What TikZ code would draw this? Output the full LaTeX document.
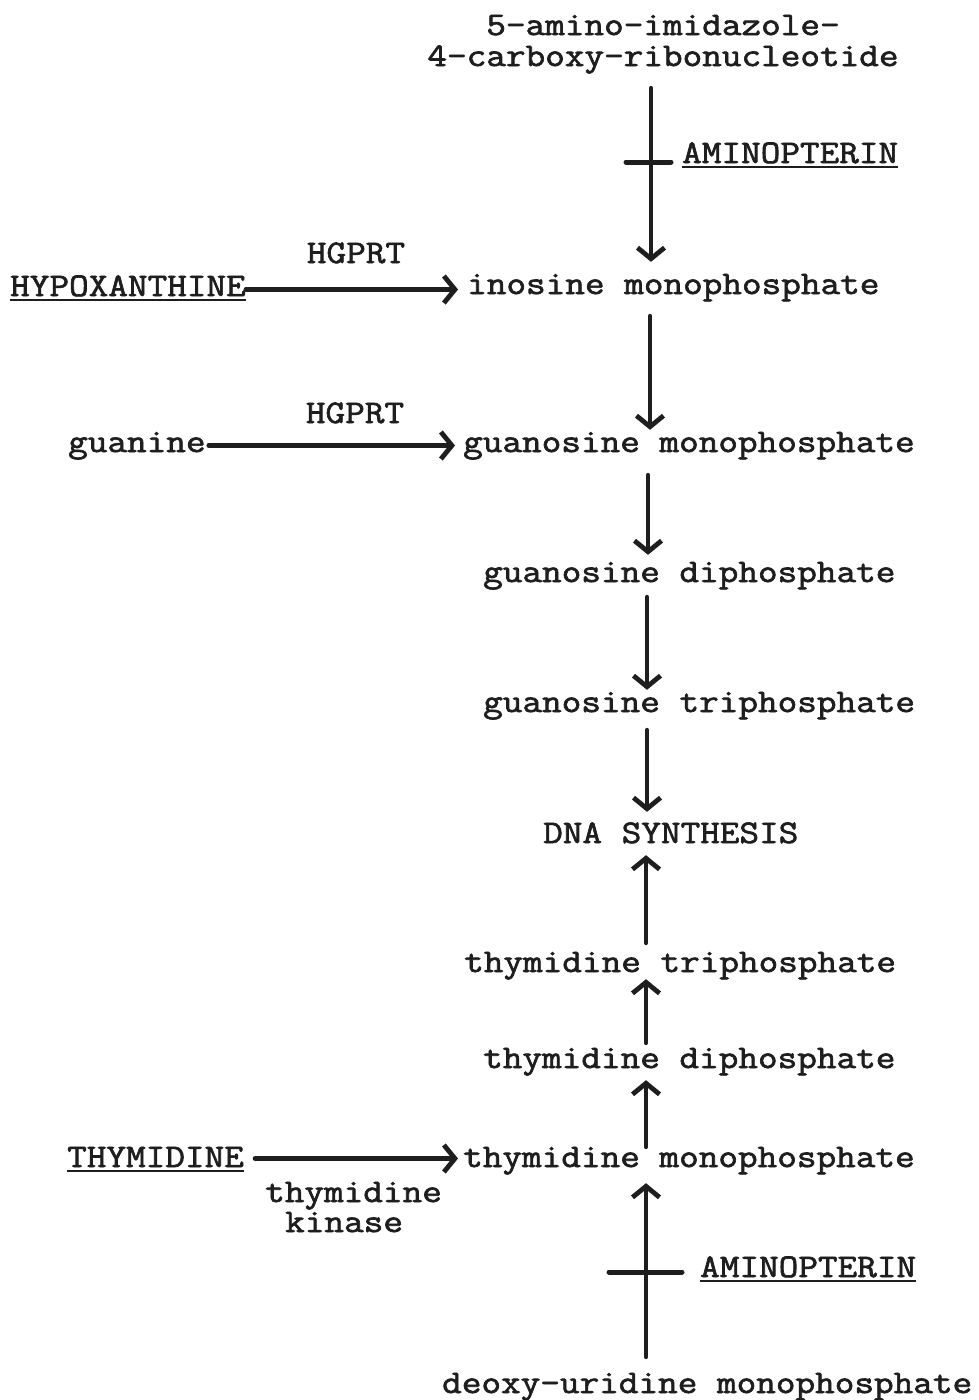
\documentclass[tikz,border=0pt]{standalone}
\usepackage{fontspec}
\usetikzlibrary{arrows.meta}
\setmonofont{Latin Modern Mono}[FakeBold=2,FakeStretch=1.155]
\definecolor{ink}{HTML}{1E1E1E}
\newcommand\myul[1]{\setbox0\hbox{#1}\rlap{\raisebox{-4.5pt}{\rule{\wd0}{1.8pt}}}\box0}
\begin{document}
\begin{tikzpicture}[x=1pt,y=-1pt,
  lbl/.style={font=\fontsize{33}{30}\ttfamily, text=ink, inner sep=0pt, text height=20pt, text depth=7pt},
  arr/.style={draw=ink, line width=4.8pt, line cap=round, -{Straight Barb[length=11pt,width=27pt]}},
  barline/.style={draw=ink, line width=5pt, line cap=round}]
\useasboundingbox (0,0) rectangle (978,1400);
\fill[white] (0,0) rectangle (978,1400);
% nodes
\node[lbl,anchor=base] (am1) at (663,35) {5-amino-imidazole-};
\node[lbl,anchor=base] (am2) at (663,66) {4-carboxy-ribonucleotide};
\node[lbl,anchor=base west] (apt1) at (682,163) {\myul{AMINOPTERIN}};
\node[lbl,anchor=base] (hg1) at (356,263) {HGPRT};
\node[lbl,anchor=base west] (hypo) at (10,296) {\myul{HYPOXANTHINE}};
\node[lbl,anchor=base west] (imp) at (467,294) {inosine monophosphate};
\node[lbl,anchor=base] (hg2) at (355,423) {HGPRT};
\node[lbl,anchor=base west] (gua) at (68,452) {guanine};
\node[lbl,anchor=base west] (gmp) at (463,452) {guanosine monophosphate};
\node[lbl,anchor=base west] (gdp) at (483,582) {guanosine diphosphate};
\node[lbl,anchor=base west] (gtp) at (483,712) {guanosine triphosphate};
\node[lbl,anchor=base west] (dna) at (543,843) {DNA SYNTHESIS};
\node[lbl,anchor=base west] (ttp) at (464,972) {thymidine triphosphate};
\node[lbl,anchor=base west] (tdp) at (483,1068) {thymidine diphosphate};
\node[lbl,anchor=base west] (tmp) at (463,1167) {thymidine monophosphate};
\node[lbl,anchor=base west] (thy) at (67,1167) {\myul{THYMIDINE}};
\node[lbl,anchor=base west] (tk1) at (265,1202) {thymidine};
\node[lbl,anchor=base west] (tk2) at (285,1232) {kinase};
\node[lbl,anchor=base west] (apt2) at (700,1277) {\myul{AMINOPTERIN}};
\node[lbl,anchor=base west] (dump) at (442,1393) {deoxy-uridine monophosphate};
% axes
\coordinate (x1) at (651,0);
\coordinate (x2) at (650,0);
\coordinate (x3) at (648,0);
\coordinate (x4) at (647,0);
\coordinate (x5) at (646,0);
% vertical arrows
\draw[arr, shorten <=15pt, shorten >=12pt] (am2.south -| x1) -- (imp.north -| x1);
\draw[arr, shorten <=15pt, shorten >=2pt] (imp.south -| x2) -- (gmp.north -| x2);
\draw[arr, shorten <=16pt, shorten >=7pt] (gmp.south -| x3) -- (gdp.north -| x3);
\draw[arr, shorten <=8pt, shorten >=2pt] (gdp.south -| x4) -- (gtp.north -| x4);
\draw[arr, shorten <=11pt, shorten >=11pt] (gtp.south -| x4) -- (dna.north -| x4);
\draw[arr, shorten <=9pt, shorten >=5pt] (ttp.north -| x5) -- (dna.south -| x5);
\draw[arr, shorten <=5pt, shorten >=0pt] (tdp.north -| x5) -- (ttp.south -| x5);
\draw[arr, shorten <=0pt, shorten >=5pt] (tmp.north -| x5) -- (tdp.south -| x5);
\draw[arr, shorten <=16pt, shorten >=9pt] (dump.north -| x5) -- (tmp.south -| x5);
% horizontal arrows
\draw[arr, shorten >=9pt] (hypo.east) -- (imp.west |- hypo.east);
\draw[arr, shorten <=3pt, shorten >=8pt] (gua.east) -- (gmp.west |- gua.east);
\draw[arr, shorten <=11pt, shorten >=5pt] ([yshift=2pt]thy.east) -- ([yshift=2pt]thy.east -| tmp.west);
% inhibition bars
\coordinate (b1) at (651,162);
\coordinate (b2) at (646,1272);
\draw[barline] ([xshift=-25pt]b1) -- ([xshift=20pt]b1);
\draw[barline] ([xshift=-37pt]b2) -- ([xshift=36pt]b2);
\end{tikzpicture}
\end{document}
